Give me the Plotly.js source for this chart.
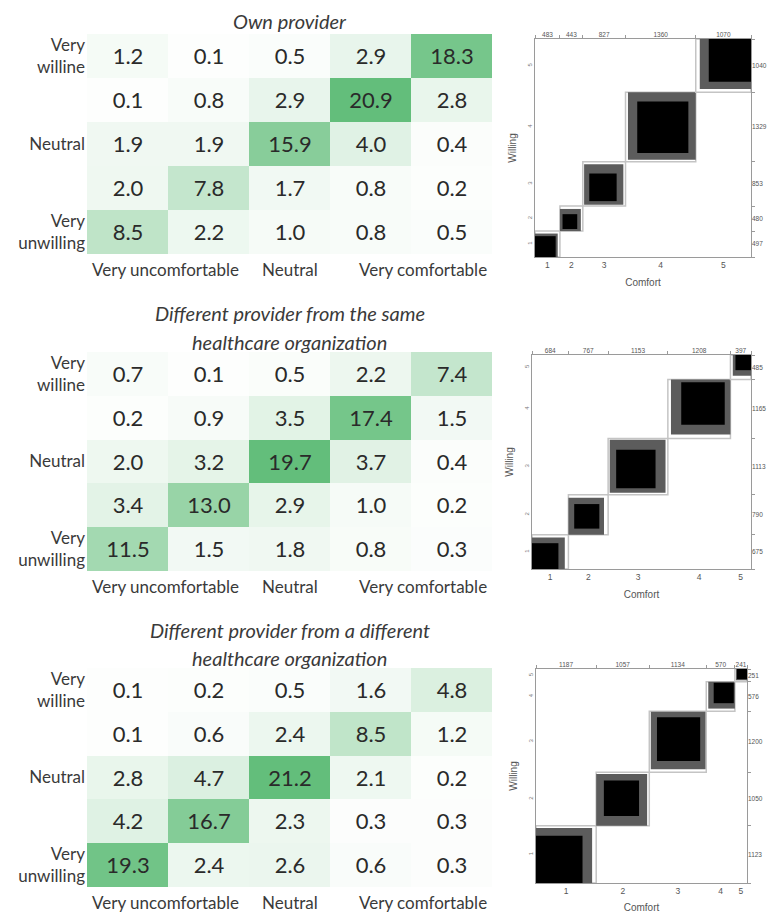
<!DOCTYPE html>
<html>
<head>
<meta charset="utf-8">
<script src="https://cdn.plot.ly/plotly-3.0.1.min.js"></script>
<style>html,body{margin:0;padding:0;background:#fff;}#chart{width:769px;height:913px;}</style>
</head>
<body>
<div id="chart"></div>
<script>
// ---------- DATA ----------
// Heatmap percentages, rows listed top -> bottom (Very willing ... Very unwilling), columns Comfort 1..5
const panelTitles = [
  ["Own provider"],
  ["Different provider from the same", "healthcare organization"],
  ["Different provider from a different", "healthcare organization"]
];
const ownPct = [
  [1.2, 0.1, 0.5, 2.9, 18.3],
  [0.1, 0.8, 2.9, 20.9, 2.8],
  [1.9, 1.9, 15.9, 4.0, 0.4],
  [2.0, 7.8, 1.7, 0.8, 0.2],
  [8.5, 2.2, 1.0, 0.8, 0.5]
];
const sameOrgPct = [
  [0.7, 0.1, 0.5, 2.2, 7.4],
  [0.2, 0.9, 3.5, 17.4, 1.5],
  [2.0, 3.2, 19.7, 3.7, 0.4],
  [3.4, 13.0, 2.9, 1.0, 0.2],
  [11.5, 1.5, 1.8, 0.8, 0.3]
];
const diffOrgPct = [
  [0.1, 0.2, 0.5, 1.6, 4.8],
  [0.1, 0.6, 2.4, 8.5, 1.2],
  [2.8, 4.7, 21.2, 2.1, 0.2],
  [4.2, 16.7, 2.3, 0.3, 0.3],
  [19.3, 2.4, 2.6, 0.6, 0.3]
];
const willingLabels = ["Very<br>willine", "", "Neutral", "", "Very<br>unwilling"]; // top -> bottom
const comfortLabels = ["Very uncomfortable", "Neutral", "Very comfortable"];

// Agreement chart counts (estimated), rows = Willing 1..5 (bottom -> top), cols = Comfort 1..5
const ownCounts = [
  [400, 50, 25, 12, 10],
  [40, 285, 100, 35, 20],
  [25, 70, 530, 180, 48],
  [10, 25, 130, 990, 174],
  [8, 13, 42, 143, 818]
];
const sameOrgCounts = [
  [510, 112, 30, 15, 8],
  [123, 485, 125, 45, 12],
  [40, 90, 760, 198, 25],
  [20, 60, 193, 840, 52],
  [10, 20, 45, 110, 300]
];
const diffOrgCounts = [
  [926, 153, 30, 10, 4],
  [191, 700, 123, 30, 6],
  [60, 161, 860, 108, 11],
  [15, 35, 106, 400, 20],
  [6, 8, 15, 22, 200]
];
const ownColTotals = ["483", "443", "827", "1360", "1070"];
const ownRowTotals = ["497", "480", "853", "1329", "1040"];       // bottom -> top
const sameOrgColTotals = ["684", "767", "1153", "1208", "397"];
const sameOrgRowTotals = ["675", "790", "1113", "1165", "485"];
const diffOrgColTotals = ["1187", "1057", "1134", "570", "241"];
const diffOrgRowTotals = ["1123", "1050", "1200", "576", "251"];
const scaleLabels = ["1", "2", "3", "4", "5"];

// ---------- BUILD ----------
const W = 769, H = 913;
const fx = p => p / W;
const fy = p => 1 - p / H;

const heatPanels = [ownPct, sameOrgPct, diffOrgPct];
const countPanels = [ownCounts, sameOrgCounts, diffOrgCounts];
const colTotPanels = [ownColTotals, sameOrgColTotals, diffOrgColTotals];
const rowTotPanels = [ownRowTotals, sameOrgRowTotals, diffOrgRowTotals];

const heatBoxes = [[87, 492, 34, 254], [87, 492, 352, 571], [87, 492, 668, 887]];
const titleY = [[21], [313, 342], [630, 658]];
const agreeBoxes = [[535, 751, 39, 257], [532, 751, 355, 569], [536, 747, 669, 883]];

const data = [];
const layout = {
  width: W, height: H,
  margin: {l: 0, r: 0, t: 0, b: 0},
  paper_bgcolor: '#ffffff', plot_bgcolor: 'rgba(0,0,0,0)',
  showlegend: false,
  annotations: [], shapes: []
};

const leftFont = 'Lato, "Open Sans", sans-serif';
const rightFont = '"Liberation Sans", Arial, sans-serif';
const labelColor = '#3a3a3a';

heatPanels.forEach((rows, p) => {
  const ax = p + 1;
  const xa = 'x' + (ax === 1 ? '' : ax), ya = 'y' + (ax === 1 ? '' : ax);
  const z = rows.slice().reverse();
  const flat = rows.flat();
  data.push({
    type: 'heatmap', z: z, x: [0, 1, 2, 3, 4], y: [0, 1, 2, 3, 4],
    xaxis: xa, yaxis: ya,
    colorscale: [[0, '#fdfefd'], [1, '#63be7b']],
    zmin: Math.min(...flat), zmax: Math.max(...flat),
    showscale: false, hoverinfo: 'skip',
    texttemplate: '%{z:.1f}',
    textfont: {family: leftFont, size: 22, color: '#2a2a2a'}
  });
  const b = heatBoxes[p];
  layout['xaxis' + (ax === 1 ? '' : ax)] = {
    domain: [fx(b[0]), fx(b[1])], range: [-0.5, 4.5], anchor: ya,
    showticklabels: false, showgrid: false, zeroline: false, showline: false, ticks: '', fixedrange: true
  };
  layout['yaxis' + (ax === 1 ? '' : ax)] = {
    domain: [fy(b[3]), fy(b[2])], range: [-0.5, 4.5], anchor: xa,
    tickvals: [4, 3, 2, 1, 0], ticktext: willingLabels,
    tickfont: {family: leftFont, size: 17, color: labelColor},
    showgrid: false, zeroline: false, showline: false, ticks: '', ticklabelstandoff: 1, fixedrange: true
  };
  // x labels
  const xpos = [[0, 'left', 3], [0.5, 'center', 0], [1, 'right', -3]];
  comfortLabels.forEach((t, i) => {
    layout.annotations.push({
      text: t, xref: xa + ' domain', x: xpos[i][0], xanchor: xpos[i][1], xshift: xpos[i][2],
      yref: 'paper', y: fy(b[3] + 15), yanchor: 'middle', showarrow: false,
      font: {family: leftFont, size: 17, color: labelColor}
    });
  });
  // titles
  panelTitles[p].forEach((t, i) => {
    layout.annotations.push({
      text: '<i>' + t + '</i>', xref: xa + ' domain', x: 0.5, xanchor: 'center',
      yref: 'paper', y: fy(titleY[p][i]), yanchor: 'middle', showarrow: false,
      font: {family: leftFont, size: 20, color: labelColor}
    });
  });
});

countPanels.forEach((M, p) => {
  const base = 4 + p * 3;
  const xB = 'x' + base, xT1 = 'x' + (base + 1), xT2 = 'x' + (base + 2);
  const yL = 'y' + base, yR1 = 'y' + (base + 1), yR2 = 'y' + (base + 2);
  const n = M.length;
  const colSum = [], rowSum = [];
  for (let k = 0; k < n; k++) {
    let c = 0, r = 0;
    for (let i = 0; i < n; i++) { c += M[i][k]; r += M[k][i]; }
    colSum.push(c); rowSum.push(r);
  }
  const xc = [0], yc = [0];
  for (let k = 0; k < n; k++) { xc.push(xc[k] + colSum[k]); yc.push(yc[k] + rowSum[k]); }
  const X = xc[n], Y = yc[n];
  const xMid = colSum.map((v, k) => xc[k] + v / 2);
  const yMid = rowSum.map((v, k) => yc[k] + v / 2);

  for (let k = 0; k < n; k++) {
    layout.shapes.push({
      type: 'rect', xref: xB, yref: yL,
      x0: xc[k], x1: xc[k + 1], y0: yc[k], y1: yc[k + 1],
      fillcolor: '#ffffff', line: {color: '#c4c4c4', width: 1.5}
    });
    [[1, '#5c5c5c'], [0, '#000000']].forEach(([j, col]) => {
      const lo = Math.max(0, k - j), hi = Math.min(n - 1, k + j);
      let offX = 0, offY = 0, w = 0, h = 0;
      for (let i = 0; i < lo; i++) { offX += M[i][k]; offY += M[k][i]; }
      for (let i = lo; i <= hi; i++) { w += M[i][k]; h += M[k][i]; }
      layout.shapes.push({
        type: 'rect', xref: xB, yref: yL,
        x0: xc[k] + offX, x1: xc[k] + offX + w, y0: yc[k] + offY, y1: yc[k] + offY + h,
        fillcolor: col, line: {width: 0}
      });
    });
  }

  const b = agreeBoxes[p];
  const common = {showgrid: false, zeroline: false, fixedrange: true};
  const tf = {family: rightFont, size: 8.5, color: '#555555'};
  const tfs = {family: rightFont, size: 6.5, color: '#555555'};
  layout['xaxis' + base] = Object.assign({}, common, {
    domain: [fx(b[0]), fx(b[1])], range: [0, X], anchor: yL,
    tickvals: xMid, ticktext: scaleLabels, tickfont: tf, ticks: '',
    showline: true, linecolor: '#9a9a9a', linewidth: 1, mirror: true,
    title: {text: 'Comfort', font: {family: rightFont, size: 10, color: '#555555'}, standoff: 9}
  });
  layout['xaxis' + (base + 1)] = Object.assign({}, common, {
    overlaying: xB, side: 'top', anchor: yL, range: [0, X],
    tickvals: xMid, ticktext: colTotPanels[p], tickfont: tfs, ticks: '', showline: false
  });
  layout['xaxis' + (base + 2)] = Object.assign({}, common, {
    overlaying: xB, side: 'top', anchor: yL, range: [0, X],
    tickvals: xc, showticklabels: false, ticks: 'outside', ticklen: 3, tickcolor: '#9a9a9a', showline: false
  });
  layout['yaxis' + base] = Object.assign({}, common, {
    domain: [fy(b[3]), fy(b[2])], range: [0, Y], anchor: xB,
    tickvals: yMid, ticktext: scaleLabels, tickangle: -90, tickfont: {family: rightFont, size: 6, color: '#777777'}, ticks: '',
    showline: true, linecolor: '#9a9a9a', linewidth: 1, mirror: true,
    title: {text: 'Willing', font: {family: rightFont, size: 10, color: '#555555'}, standoff: 8}
  });
  layout['yaxis' + (base + 1)] = Object.assign({}, common, {
    overlaying: yL, side: 'right', anchor: xB, range: [0, Y],
    tickvals: yMid, ticktext: rowTotPanels[p], tickfont: tfs, ticks: '', showline: false
  });
  layout['yaxis' + (base + 2)] = Object.assign({}, common, {
    overlaying: yL, side: 'right', anchor: xB, range: [0, Y],
    tickvals: yc, showticklabels: false, ticks: 'outside', ticklen: 3, tickcolor: '#9a9a9a', showline: false
  });
  [[xB, yL], [xT1, yL], [xT2, yL], [xB, yR1], [xB, yR2]].forEach(([xa, ya]) => {
    data.push({type: 'scatter', x: [X / 2], y: [Y / 2], xaxis: xa, yaxis: ya, mode: 'markers',
      marker: {opacity: 0, size: 1}, hoverinfo: 'skip', showlegend: false});
  });
});

Plotly.newPlot('chart', data, layout, {displayModeBar: false, staticPlot: true});
</script>
</body>
</html>
